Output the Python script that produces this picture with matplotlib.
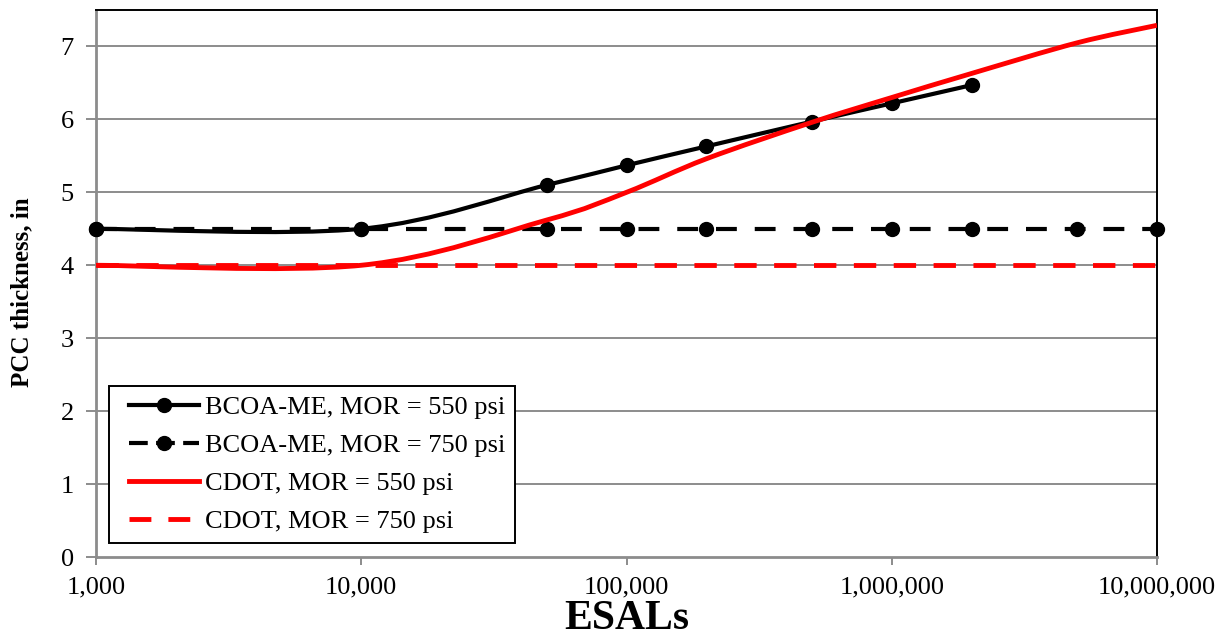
import numpy as np
import matplotlib
matplotlib.use("Agg")
import matplotlib.pyplot as plt
from matplotlib.path import Path
from matplotlib.patches import PathPatch
from matplotlib.lines import Line2D
from matplotlib.legend_handler import HandlerLine2D
from matplotlib.ticker import FuncFormatter, FixedLocator, NullLocator

plt.rcParams['font.family'] = ['Liberation Serif', 'DejaVu Serif']

# ---- data ----
esal_bcoa550 = [1e3, 1e4, 5e4, 1e5, 2e5, 5e5, 1e6, 2e6]
thk_bcoa550 = [4.5, 4.5, 5.10, 5.37, 5.63, 5.97, 6.22, 6.47]

esal_bcoa750 = [1e3, 1e4, 5e4, 1e5, 2e5, 5e5, 1e6, 2e6, 5e6, 1e7]
thk_bcoa750 = [4.5, 4.5, 4.5, 4.5, 4.5, 4.5, 4.5, 4.5, 4.5, 4.5]

esal_cdot550 = [1e3, 1e4, 5e4, 1e5, 2e5, 5e5, 1e6, 2e6, 5e6, 1e7]
thk_cdot550 = [4.0, 4.0, 4.62, 5.0, 5.46, 5.96, 6.30, 6.63, 7.05, 7.29]

esal_cdot750 = [1e3, 1e4, 5e4, 1e5, 2e5, 5e5, 1e6, 2e6, 5e6, 1e7]
thk_cdot750 = [4.0, 4.0, 4.0, 4.0, 4.0, 4.0, 4.0, 4.0, 4.0, 4.0]

labels = ["BCOA-ME, MOR = 550 psi", "BCOA-ME, MOR = 750 psi",
          "CDOT, MOR = 550 psi", "CDOT, MOR = 750 psi"]
xticks = [1e3, 1e4, 1e5, 1e6, 1e7]
yticks = [0, 1, 2, 3, 4, 5, 6, 7]


def smooth_path(xs, ys):
    """Excel-style smoothed line: Catmull-Rom Bezier segments in log-x space."""
    lx = np.log10(np.asarray(xs, float))
    y = np.asarray(ys, float)
    P = np.column_stack([lx, y])
    n = len(P)
    verts = [P[0]]
    codes = [Path.MOVETO]
    for i in range(n - 1):
        p0 = P[i - 1] if i > 0 else P[i]
        p1 = P[i]
        p2 = P[i + 1]
        p3 = P[i + 2] if i + 2 < n else P[i + 1]
        c1 = p1 + (p2 - p0) / 6.0
        c2 = p2 - (p3 - p1) / 6.0
        verts += [c1, c2, p2]
        codes += [Path.CURVE4] * 3
    V = np.array(verts)
    V[:, 0] = 10 ** V[:, 0]
    return Path(V, codes)


fig = plt.figure(figsize=(12.25, 6.38), dpi=100)
W, H = 1225, 638
ax = fig.add_axes([96 / W, (H - 557) / H, (1157 - 96) / W, (557 - 10) / H])
ax.set_xscale('log')
ax.set_xlim(1e3, 1e7)
ax.set_ylim(0, 7.5)

grid_c = '#8c8c8c'
for t in yticks[1:]:
    ax.axhline(t, color=grid_c, lw=1.4, zorder=1)

# BCOA-ME 550 (smoothed, markers)
ax.add_patch(PathPatch(smooth_path(esal_bcoa550, thk_bcoa550), fill=False,
                       edgecolor='black', lw=3.0, zorder=3, capstyle='round'))
ax.plot(esal_bcoa550, thk_bcoa550, ls='none', marker='o', ms=10,
        color='black', zorder=3, clip_on=False)

# BCOA-ME 750
ax.plot(esal_bcoa750, thk_bcoa750, color='black', lw=3.0, dashes=(5, 4.3),
        marker='o', ms=10, zorder=4, clip_on=False)

# CDOT 550 (smoothed)
ax.add_patch(PathPatch(smooth_path(esal_cdot550, thk_cdot550), fill=False,
                       edgecolor='#ff0000', lw=3.5, zorder=5, capstyle='butt'))

# CDOT 750
ax.plot(esal_cdot750, thk_cdot750, color='#ff0000', lw=3.5, dashes=(4.6, 3.6),
        zorder=6)

# axes styling
ax.xaxis.set_major_locator(FixedLocator(xticks))
ax.xaxis.set_minor_locator(NullLocator())
ax.xaxis.set_major_formatter(FuncFormatter(lambda v, p: f"{int(round(v)):,}"))
ax.set_yticks(yticks)
ax.tick_params(axis='x', which='major', direction='out', length=6, width=1.4,
               color=grid_c, labelsize=19, pad=8)
ax.tick_params(axis='y', which='major', direction='out', length=7, width=1.4,
               color=grid_c, labelsize=19, pad=9)
for s in ['left', 'bottom']:
    ax.spines[s].set_color(grid_c)
    ax.spines[s].set_linewidth(2.0)
for s in ['top', 'right']:
    ax.spines[s].set_color('black')
    ax.spines[s].set_linewidth(1.4)

ax.set_xlabel("ESALs", fontsize=30, fontweight='bold', labelpad=1)
ax.set_ylabel("PCC thickness, in", fontsize=18, fontweight='bold')
ax.yaxis.set_label_coords(-(96 - 33) / 1061, 0.485)

handles = [
    Line2D([], [], color='black', lw=3.0, marker='o', ms=10),
    Line2D([], [], color='black', lw=3.0, marker='o', ms=10, dashes=(4.5, 2.0)),
    Line2D([], [], color='#ff0000', lw=3.5),
    Line2D([], [], color='#ff0000', lw=3.5, dashes=(4.5, 3.5)),
]
fs = 19
hmap = {h: HandlerLine2D(xpad=0.38) for h in handles}
leg = ax.legend(handles, labels, loc='lower left',
                bbox_to_anchor=((109 - 96) / 1061, (557 - 543) / 547),
                borderaxespad=0, fontsize=fs, frameon=True, fancybox=False,
                framealpha=1, edgecolor='black', handlelength=3.03,
                handletextpad=0.23, labelspacing=0.55, borderpad=0.38,
                handler_map=hmap)
leg.get_frame().set_linewidth(1.4)
leg.set_zorder(10)

fig.savefig("out.png", dpi=100)
